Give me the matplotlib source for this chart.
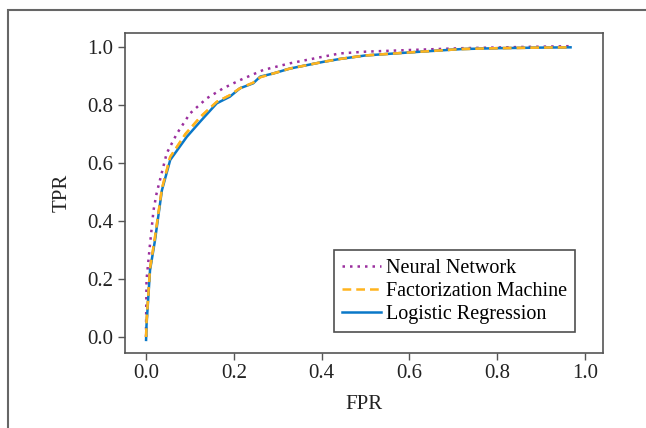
import matplotlib
matplotlib.use("Agg")
import matplotlib.pyplot as plt
from matplotlib.patches import Rectangle

plt.rcParams['font.family'] = ['Liberation Serif', 'DejaVu Serif']

# ROC curves
fpr_nn = [0.0, 0.0, 0.001, 0.009, 0.017, 0.024, 0.047, 0.07, 0.10, 0.138, 0.176,
          0.214, 0.267, 0.328, 0.404, 0.442, 0.50, 0.606, 0.72, 0.85, 0.967]
tpr_nn = [0.0, 0.035, 0.196, 0.32, 0.437, 0.495, 0.633, 0.70, 0.77, 0.822, 0.857,
          0.885, 0.92, 0.943, 0.966, 0.977, 0.983, 0.989, 0.995, 0.999, 1.002]

fpr_fm = [0.0, 0.001, 0.009, 0.02, 0.036, 0.055, 0.09, 0.125, 0.161, 0.191,
          0.214, 0.244, 0.26, 0.29, 0.328, 0.404, 0.442, 0.50, 0.606, 0.719,
          0.8, 0.9, 0.967]
tpr_fm = [0.0, 0.05, 0.235, 0.34, 0.51, 0.62, 0.70, 0.76, 0.81, 0.833,
          0.857, 0.876, 0.895, 0.908, 0.925, 0.948, 0.958, 0.970, 0.981, 0.992,
          0.995, 0.997, 0.998]

fpr_lr = [0.0, 0.001, 0.009, 0.02, 0.036, 0.055, 0.093, 0.125, 0.161, 0.191,
          0.214, 0.244, 0.26, 0.29, 0.328, 0.404, 0.442, 0.50, 0.606, 0.719,
          0.8, 0.9, 0.967]
tpr_lr = [-0.01, 0.04, 0.23, 0.33, 0.505, 0.61, 0.69, 0.745, 0.805, 0.828,
          0.857, 0.874, 0.897, 0.908, 0.925, 0.948, 0.958, 0.970, 0.981, 0.992,
          0.995, 0.997, 0.998]

ticks = [0.0, 0.2, 0.4, 0.6, 0.8, 1.0]

fig = plt.figure(figsize=(6.46, 4.28), dpi=100)
ax = fig.add_axes([0.1935, 0.176, 0.74, 0.746])

ax.plot(fpr_nn, tpr_nn, color='#9b2f9e', linestyle=(0, (1, 2)), linewidth=1.8, label='Neural Network')
ax.plot(fpr_fm, tpr_fm, color='#ffb41e', linestyle=(0, (3.5, 2)), linewidth=1.8, label='Factorization Machine')
ax.plot(fpr_lr, tpr_lr, color='#0a78c8', linestyle='-', linewidth=1.8, label='Logistic Regression')
# dashed FM drawn on top of LR as in the reference
ax.plot(fpr_fm, tpr_fm, color='#ffb41e', linestyle=(0, (3.5, 2)), linewidth=1.8, zorder=3)

ax.set_xlim(-0.048, 1.041)
ax.set_ylim(-0.054, 1.046)
ax.set_xticks(ticks)
ax.set_yticks(ticks)
ax.set_xticklabels(['%.1f' % t for t in ticks])
ax.set_yticklabels(['%.1f' % t for t in ticks])
ax.tick_params(labelsize=15, color='#555555', labelcolor='#222222', length=5, width=1)
for s in ax.spines.values():
    s.set_color('#555555')
    s.set_linewidth(1.2)

ax.set_xlabel('FPR', fontsize=15, color='#222222', labelpad=8)
ax.set_ylabel('TPR', fontsize=15, color='#222222', labelpad=11)

leg = ax.legend(loc='lower right', bbox_to_anchor=(0.941, 0.065), fontsize=14.5,
                frameon=True, fancybox=False, edgecolor='#222222',
                handlelength=1.9, handletextpad=0.25, borderpad=0.4, labelspacing=0.2,
                borderaxespad=0)
leg.get_frame().set_linewidth(1.2)

# outer frame of the figure panel
fig.patches.append(Rectangle((8 / 646, -0.2), 1.2, 1.2 - 10 / 428, transform=fig.transFigure,
                             fill=False, edgecolor='#666666', linewidth=1.5))

fig.savefig('out.png', dpi=100)
